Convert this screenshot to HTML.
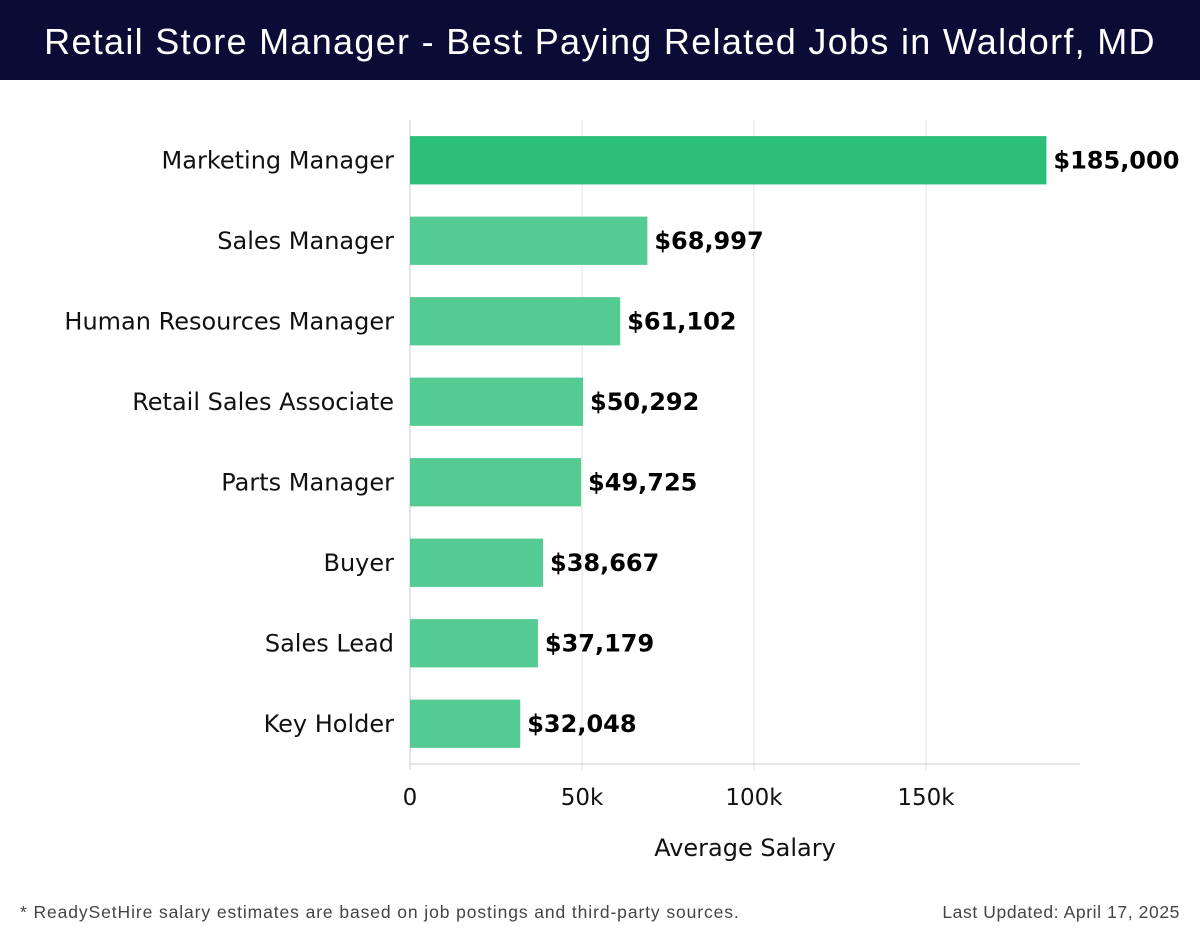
<!DOCTYPE html>
<html><head><meta charset="utf-8">
<style>
body{margin:0;width:1200px;height:940px;background:#fff;font-family:"Liberation Sans","DejaVu Sans",sans-serif;overflow:hidden}
#hdr{position:absolute;left:0;top:0;width:1200px;height:80px;background:#0b0c36;color:#fff;font-size:36px;text-align:center;line-height:84px;letter-spacing:1.3px}
.ft{position:absolute;top:902px;font-size:17.5px;color:#444;letter-spacing:0.9px}
svg text{font-family:"DejaVu Sans","Liberation Sans",sans-serif}
</style></head><body>
<div id="hdr">Retail Store Manager - Best Paying Related Jobs in Waldorf, MD</div>
<svg id="chart" width="1200" height="940" style="position:absolute;left:0;top:0"></svg>
<div class="ft" style="left:20px">* ReadySetHire salary estimates are based on job postings and third-party sources.</div>
<div class="ft" style="right:20px;letter-spacing:0.6px">Last Updated: April 17, 2025</div>
<script>
const categories=["Marketing Manager","Sales Manager","Human Resources Manager","Retail Sales Associate","Parts Manager","Buyer","Sales Lead","Key Holder"];
const salaries=[185000,68997,61102,50292,49725,38667,37179,32048];
const tickValues=[0,50000,100000,150000];
const tickLabels=["0","50k","100k","150k"];
const NS="http://www.w3.org/2000/svg";
const svg=document.getElementById('chart');
const x0=410,xPer=172/50000,plotTop=120,plotBot=764,axisEnd=1080;
const band=(plotBot-plotTop)/categories.length;
const x=v=>x0+v*xPer;
const yc=i=>plotTop+band*(i+0.5);
function mk(t,a){const e=document.createElementNS(NS,t);for(const k in a)e.setAttribute(k,a[k]);svg.appendChild(e);return e;}
tickValues.forEach((v,i)=>{
  const g=mk('line',{x1:x(v),x2:x(v),y1:plotTop,y2:plotBot+6,stroke:i?'#e2e2e2':'#ccc','stroke-width':1});
  
  
  const t=mk('text',{x:x(v),y:805,'text-anchor':'middle','font-size':23,fill:'#111'});
  t.textContent=tickLabels[i];
  
  
});
const ax=mk('line',{x1:x0,x2:axisEnd,y1:plotBot,y2:plotBot,stroke:'#ccc','stroke-width':1});


const xt=mk('text',{x:745,y:856,'text-anchor':'middle','font-size':24,fill:'#111'});
xt.textContent='Average Salary';


categories.forEach((c,i)=>{
  const h=band*0.6;
  const r=mk('rect',{x:x0,y:yc(i)-h/2,width:x(salaries[i])-x0,height:h,fill:i===0?'#2bbf77':'#55cb94'});
  
  
  const l=mk('text',{x:394,y:yc(i)+8,'text-anchor':'end','font-size':24,fill:'#111'});
  l.textContent=c;
  
  
  const v=mk('text',{x:x(salaries[i])+7,y:yc(i)+8,'font-size':24,'font-weight':'bold',fill:'#000'});
  v.textContent='$'+salaries[i].toLocaleString('en-US');
  
  
});
</script>
</body></html>
